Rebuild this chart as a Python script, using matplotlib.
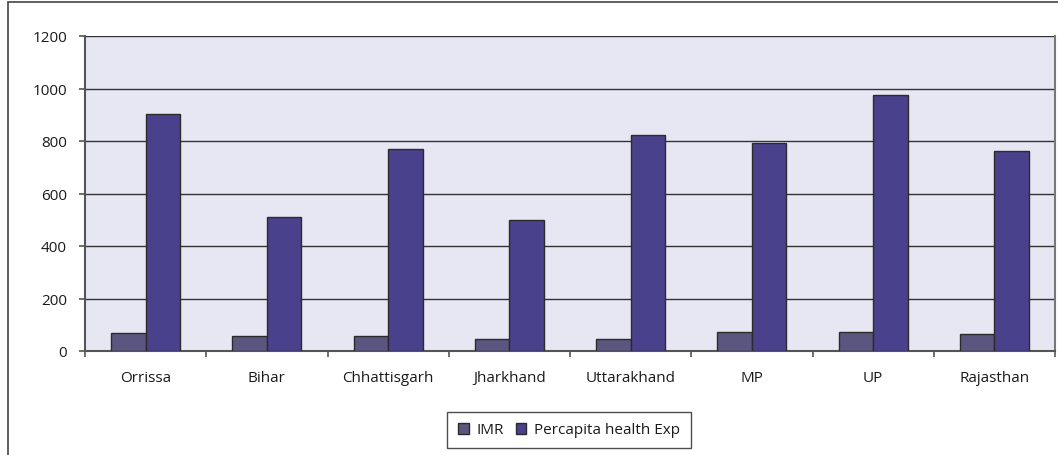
import matplotlib
matplotlib.use("Agg")
import matplotlib.pyplot as plt
import numpy as np
from matplotlib.patches import Rectangle, Patch

categories = ["Orrissa", "Bihar", "Chhattisgarh", "Jharkhand", "Uttarakhand", "MP", "UP", "Rajasthan"]
imr = [70, 56, 56, 44, 44, 71, 71, 64]
percapita = [901, 511, 771, 498, 822, 791, 977, 761]
yticks = [0, 200, 400, 600, 800, 1000, 1200]

plt.rcParams['font.family'] = ['Open Sans', 'DejaVu Sans']

W, H = 1058, 456
fig = plt.figure(figsize=(W/100, H/100), dpi=100)
ax = fig.add_axes([85/W, 1 - 352/H, (1055-85)/W, (352-37)/H])

x = np.arange(len(categories))
bw = 0.285
c_imr = '#5a5680'
c_per = '#4a418c'
ax.set_facecolor('#e7e7f3')
ax.bar(x - bw/2, imr, bw, color=c_imr, edgecolor='#2b2b2b', linewidth=1.0, zorder=3, label='IMR')
ax.bar(x + bw/2, percapita, bw, color=c_per, edgecolor='#2b2b2b', linewidth=1.0, zorder=3, label='Percapita health Exp')

ax.set_xlim(-0.5, len(categories) - 0.5)
ax.set_ylim(0, 1200)
ax.set_yticks(yticks)
ax.set_yticklabels([str(v) for v in yticks])
ax.yaxis.grid(True, color='#333333', linewidth=1.0, zorder=1)
ax.set_axisbelow(True)

ax.set_xticks(x)
ax.set_xticklabels(categories)
ax.set_xticks(np.arange(len(categories) + 1) - 0.5, minor=True)
ax.tick_params(axis='x', which='major', length=0, pad=14, labelsize=11, colors='#1a1a1a')
ax.tick_params(axis='x', which='minor', length=4, width=1.2, color='#555555', direction='out')
ax.tick_params(axis='y', length=4, width=1.2, color='#555555', pad=9, labelsize=11, labelcolor='#1a1a1a')

for s in ['left', 'bottom']:
    ax.spines[s].set_color('#555555')
    ax.spines[s].set_linewidth(1.5)
ax.spines['right'].set_color('#777777')
ax.spines['right'].set_linewidth(1.5)
ax.spines['top'].set_visible(False)

handles = [Patch(facecolor=c_imr, edgecolor='#2b2b2b'), Patch(facecolor=c_per, edgecolor='#2b2b2b')]
leg = fig.legend(handles, ['IMR', 'Percapita health Exp'], loc='center',
                 bbox_to_anchor=(569/W, 1 - 431/H), ncol=2, frameon=True, fancybox=False,
                 edgecolor='#222222', fontsize=11, handlelength=0.7, handleheight=0.7,
                 handletextpad=0.5, columnspacing=0.8, borderpad=0.7, borderaxespad=0)
leg.get_frame().set_linewidth(1.0)
for t in leg.get_texts():
    t.set_color('#1a1a1a')

# outer chart border
fig.patches.append(Rectangle((8/W, -0.1), 1.2, 1 - 3/H + 0.1, transform=fig.transFigure,
                             fill=False, edgecolor='#444444', linewidth=1.2))

fig.savefig('out.png', dpi=100)
